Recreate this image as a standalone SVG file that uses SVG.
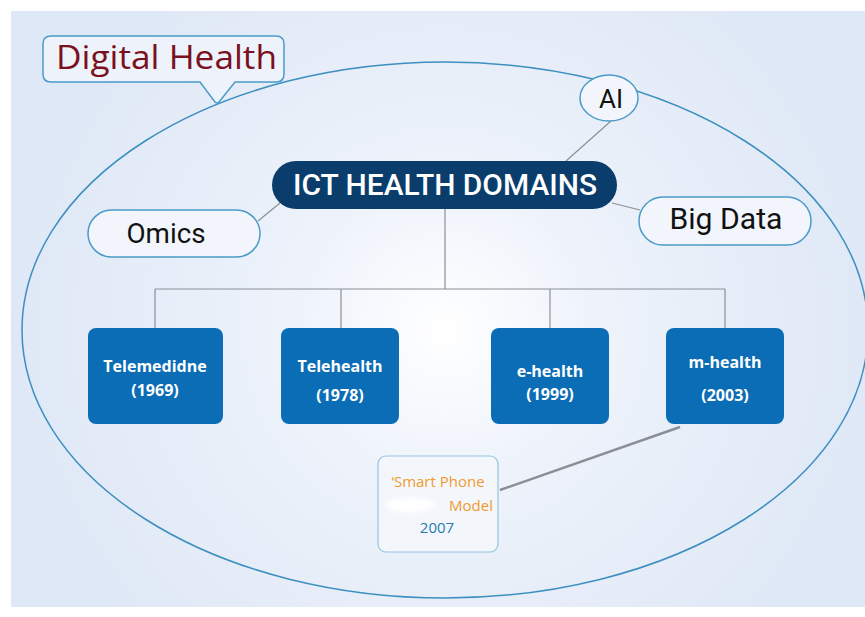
<svg xmlns="http://www.w3.org/2000/svg" width="865" height="617" viewBox="0 0 865 617">
<defs>
<radialGradient id="bg" cx="445" cy="330" r="430" gradientUnits="userSpaceOnUse">
<stop offset="0" stop-color="#ffffff"/>
<stop offset="0.35" stop-color="#eef3fb"/>
<stop offset="1" stop-color="#dfe8f6"/>
</radialGradient>
<filter id="blur" x="-50%" y="-50%" width="200%" height="200%"><feGaussianBlur stdDeviation="2"/></filter>
<style>
.pill{fill:#f2f6fc;stroke:#4a9ac8;stroke-width:1.5}
.pilltxt{font-family:Roboto,"Liberation Sans",sans-serif;font-weight:400;fill:#111;text-anchor:middle}
.box{fill:#0b6db5}
.boxtxt{font-family:"Open Sans","Noto Sans",sans-serif;font-weight:700;font-size:16px;fill:#fff;text-anchor:middle}
.conn{stroke:#8a8f96;stroke-width:1.2;fill:none}
</style>
</defs>
<rect x="0" y="0" width="865" height="617" fill="#ffffff"/>
<rect x="11" y="11" width="854" height="596" fill="url(#bg)"/>
<ellipse cx="445" cy="330" rx="423" ry="268" fill="none" stroke="#3d8fc0" stroke-width="1.5"/>

<g id="connectors">
<line class="conn" x1="611" y1="121" x2="566" y2="161"/>
<line class="conn" x1="258" y1="221" x2="280" y2="203"/>
<line class="conn" x1="612" y1="203" x2="640" y2="210"/>
<polyline class="conn" points="445,209 445,289"/>
<line class="conn" x1="155" y1="289" x2="725" y2="289"/>
<line class="conn" x1="155" y1="289" x2="155" y2="328"/>
<line class="conn" x1="341" y1="289" x2="341" y2="328"/>
<line class="conn" x1="550" y1="289" x2="550" y2="328"/>
<line class="conn" x1="725" y1="289" x2="725" y2="328"/>
<line x1="680" y1="427" x2="500" y2="490" stroke="#8a8f96" stroke-width="2.5"/>
</g>

<g id="digital-health">
<path d="M51,36 H276 Q284,36 284,44 V74 Q284,82 276,82 H235 L219,102 Q217,104 215,102 L200,82 H51 Q43,82 43,74 V44 Q43,36 51,36 Z" fill="#eef3fb" stroke="#4a9ac8" stroke-width="1.5"/>
<text x="56" y="69" font-family="'Open Sans','Noto Sans',sans-serif" font-size="33" fill="#7a1020" textLength="221" lengthAdjust="spacingAndGlyphs">Digital Health</text>
</g>

<g id="ai">
<ellipse class="pill" cx="609" cy="98" rx="29" ry="23"/>
<text class="pilltxt" x="611" y="108" font-size="26">AI</text>
</g>

<g id="ict">
<rect x="272" y="161" width="345" height="48" rx="24" fill="#0a3d6b"/>
<text x="445" y="195" font-family="Roboto,'Liberation Sans',sans-serif" font-weight="500" font-size="29" fill="#fff" text-anchor="middle" textLength="304" lengthAdjust="spacingAndGlyphs">ICT HEALTH DOMAINS</text>
</g>

<g id="omics">
<rect class="pill" x="88" y="210" width="172" height="47" rx="23.5"/>
<text class="pilltxt" x="166" y="243" font-size="28" textLength="79" lengthAdjust="spacingAndGlyphs">Omics</text>
</g>

<g id="bigdata">
<rect class="pill" x="639" y="197" width="172" height="48" rx="24"/>
<text class="pilltxt" x="726" y="229" font-size="29" textLength="113" lengthAdjust="spacingAndGlyphs">Big Data</text>
</g>

<g id="telemedicine">
<rect class="box" x="88" y="328" width="135" height="96" rx="8"/>
<text class="boxtxt" x="155" y="372">Telemedidne</text>
<text class="boxtxt" x="155" y="396">(1969)</text>
</g>
<g id="telehealth">
<rect class="box" x="281" y="328" width="118" height="96" rx="8"/>
<text class="boxtxt" x="340" y="372">Telehealth</text>
<text class="boxtxt" x="340" y="401">(1978)</text>
</g>
<g id="ehealth">
<rect class="box" x="491" y="328" width="118" height="96" rx="8"/>
<text class="boxtxt" x="550" y="377">e-health</text>
<text class="boxtxt" x="550" y="400">(1999)</text>
</g>
<g id="mhealth">
<rect class="box" x="666" y="328" width="118" height="96" rx="8"/>
<text class="boxtxt" x="725" y="368">m-health</text>
<text class="boxtxt" x="725" y="401">(2003)</text>
</g>

<g id="smartphone">
<rect x="378" y="456" width="120" height="96" rx="8" fill="#f3f7fc" stroke="#93c3de" stroke-width="1.2"/>
<text x="438" y="487" font-family="'Open Sans','Noto Sans',sans-serif" font-size="15" fill="#f29a2e" text-anchor="middle">‘Smart Phone</text>
<ellipse cx="410" cy="505" rx="24" ry="7" fill="#ffffff" filter="url(#blur)"/>
<text x="493" y="511" font-family="'Open Sans','Noto Sans',sans-serif" font-size="15" fill="#f29a2e" text-anchor="end">Model</text>
<text x="437" y="533" font-family="'Open Sans','Noto Sans',sans-serif" font-size="15" fill="#2a7ab0" text-anchor="middle">2007</text>
</g>
</svg>
